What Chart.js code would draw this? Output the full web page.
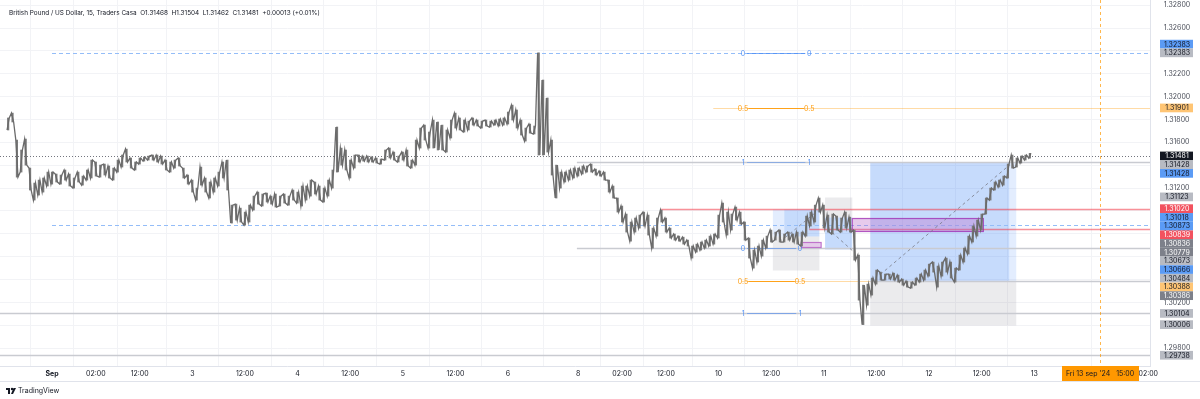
<!DOCTYPE html>
<html>
<head>
<meta charset="utf-8">
<script src="https://cdn.jsdelivr.net/npm/chart.js@4.4.1/dist/chart.umd.min.js"></script>
<style>
  html, body { margin: 0; padding: 0; background: #fff; }
</style>
</head>
<body>
<canvas id="myChart" width="1200" height="399"></canvas>
<script>
// GBP/USD 15m, hourly high/low; first value is 10 h before the "Sep" tick
var firstHour = -10;
var highs = [1.31813,1.31856,1.31620,1.31533,1.31629,1.31375,1.31244,1.31270,1.31288,1.31340,
  1.31340,1.31323,1.31314,1.31358,1.31323,1.31288,1.31340,1.31305,1.31358,1.31445,
  1.31428,1.31401,1.31410,1.31393,1.31375,1.31445,1.31489,1.31541,1.31463,1.31428,
  1.31463,1.31471,1.31480,1.31489,1.31489,1.31480,1.31445,1.31428,1.31445,1.31463,
  1.31375,1.31314,1.31270,1.31200,1.31384,1.31288,1.31253,1.31288,1.31340,1.31428,
  1.31445,1.31051,1.31060,1.31025,1.30990,1.31051,1.31130,1.31165,1.31148,1.31156,
  1.31130,1.31148,1.31130,1.31148,1.31130,1.31183,1.31165,1.31218,1.31218,1.31270,
  1.31253,1.31218,1.31200,1.31270,1.31358,1.31734,1.31550,1.31533,1.31445,1.31489,
  1.31489,1.31480,1.31480,1.31471,1.31463,1.31454,1.31533,1.31550,1.31515,1.31480,
  1.31515,1.31533,1.31445,1.31620,1.31725,1.31751,1.31690,1.31795,1.31778,1.31751,
  1.31708,1.31795,1.31856,1.31813,1.31795,1.31786,1.31813,1.31795,1.31786,1.31795,
  1.31786,1.31795,1.31804,1.31813,1.31865,1.31926,1.31883,1.31795,1.31725,1.31760,
  1.31743,1.32383,1.32145,1.31988,1.31620,1.31401,1.31340,1.31340,1.31358,1.31375,
  1.31375,1.31393,1.31393,1.31410,1.31366,1.31349,1.31340,1.31270,1.31218,1.31113,
  1.31043,1.30973,1.30903,1.30938,1.30964,1.30990,1.30964,1.30850,1.30938,1.31008,
  1.30938,1.30850,1.30798,1.30780,1.30771,1.30745,1.30693,1.30710,1.30728,1.30745,
  1.30780,1.30798,1.30964,1.31069,1.30990,1.30973,1.31034,1.30990,1.30903,1.30763,
  1.30658,1.30693,1.30745,1.30780,1.30833,1.30815,1.30833,1.30798,1.30815,1.30798,
  1.30815,1.30815,1.30955,1.30990,1.31051,1.31113,1.31051,1.30964,1.30973,1.30955,
  1.30938,1.30990,1.30946,1.30833,1.30614,1.30351,1.30360,1.30413,1.30483,1.30465,
  1.30448,1.30448,1.30456,1.30439,1.30404,1.30386,1.30378,1.30413,1.30448,1.30483,
  1.30535,1.30553,1.30518,1.30553,1.30588,1.30553,1.30500,1.30614,1.30675,1.30780,
  1.30868,1.30920,1.30973,1.31113,1.31200,1.31253,1.31270,1.31305,1.31410,1.31489,
  1.31463,1.31480,1.31489,1.31504];
var lows = [1.31708,1.31778,1.31296,1.31340,1.31401,1.31183,1.31095,1.31139,1.31165,1.31218,
  1.31235,1.31253,1.31235,1.31270,1.31218,1.31200,1.31253,1.31226,1.31270,1.31288,
  1.31305,1.31296,1.31314,1.31288,1.31270,1.31340,1.31384,1.31428,1.31375,1.31358,
  1.31410,1.31436,1.31445,1.31445,1.31428,1.31410,1.31358,1.31340,1.31375,1.31393,
  1.31288,1.31235,1.31165,1.31095,1.31226,1.31165,1.31113,1.31165,1.31218,1.31288,
  1.31183,1.30894,1.30920,1.30903,1.30876,1.30903,1.31008,1.31060,1.31043,1.31078,
  1.31060,1.31034,1.31043,1.31069,1.31051,1.31095,1.31069,1.31043,1.31095,1.31130,
  1.31148,1.31095,1.31078,1.31130,1.31200,1.31340,1.31401,1.31358,1.31288,1.31375,
  1.31428,1.31436,1.31428,1.31428,1.31419,1.31410,1.31445,1.31463,1.31445,1.31428,
  1.31445,1.31393,1.31375,1.31401,1.31550,1.31620,1.31550,1.31550,1.31533,1.31533,
  1.31515,1.31638,1.31725,1.31708,1.31690,1.31708,1.31751,1.31743,1.31725,1.31743,
  1.31734,1.31751,1.31743,1.31751,1.31760,1.31795,1.31725,1.31664,1.31611,1.31681,
  1.31673,1.31489,1.31489,1.31515,1.31314,1.31113,1.31200,1.31253,1.31270,1.31288,
  1.31305,1.31323,1.31340,1.31340,1.31314,1.31305,1.31270,1.31165,1.31113,1.30990,
  1.30903,1.30815,1.30736,1.30815,1.30850,1.30868,1.30789,1.30675,1.30780,1.30903,
  1.30815,1.30763,1.30745,1.30736,1.30710,1.30693,1.30588,1.30640,1.30658,1.30675,
  1.30693,1.30710,1.30763,1.30903,1.30789,1.30833,1.30920,1.30885,1.30745,1.30588,
  1.30500,1.30553,1.30605,1.30675,1.30728,1.30745,1.30728,1.30728,1.30745,1.30728,
  1.30710,1.30693,1.30780,1.30868,1.30903,1.30990,1.30850,1.30815,1.30798,1.30833,
  1.30815,1.30850,1.30815,1.30570,1.30220,1.30006,1.30176,1.30264,1.30360,1.30395,
  1.30395,1.30404,1.30395,1.30378,1.30351,1.30334,1.30325,1.30351,1.30378,1.30395,
  1.30430,1.30465,1.30334,1.30430,1.30465,1.30413,1.30378,1.30483,1.30553,1.30623,
  1.30728,1.30780,1.30833,1.30973,1.31095,1.31183,1.31209,1.31226,1.31288,1.31375,
  1.31384,1.31419,1.31445,1.31462];

// time axis: hours of trading since Sun 1 Sep 16:00 (weekend removed)
var tickHours = [0, 10, 20, 32, 44, 56, 68, 80, 92, 104, 120, 130, 140, 152, 164, 176, 188, 200, 212, 224, 250];
var tickLabels = ['Sep', '02:00', '12:00', '3', '12:00', '4', '12:00', '5', '12:00', '6',
  '8', '02:00', '12:00', '10', '12:00', '11', '12:00', '12', '12:00', '13', '02:00'];
var priceTicks = [1.298, 1.300, 1.302, 1.304, 1.306, 1.308, 1.310, 1.312, 1.314, 1.316, 1.318, 1.320, 1.322, 1.324, 1.326, 1.328];

// price-scale labels of the drawn levels, top to bottom
var levelPrices = [1.32383, 1.32383, 1.31901, 1.31481, 1.31428, 1.31428, 1.31123, 1.31020, 1.31018, 1.30873,
  1.30839, 1.30836, 1.30779, 1.30673, 1.30666, 1.30484, 1.30388, 1.30386, 1.30104, 1.30006, 1.29738];
var levelKinds = ['blue', 'gray', 'orange', 'last', 'gray', 'blue', 'gray', 'red', 'blue', 'blue',
  'red', 'dark', 'dark', 'gray', 'blue', 'gray', 'orange', 'dark', 'gray', 'gray', 'gray'];

var legendText = 'British Pound / US Dollar, 15, Traders Casa  O1.31468  H1.31504  L1.31462  C1.31481  +0.00013 (+0.01%)';
var crossHour = 239;
var crossText = "Fri 13 sep '24   15:00";

var FONT = 'Inter, "Noto Sans", sans-serif';
var kindStyle = {
  blue: ['#5B9BF5', '#131722'],
  gray: ['#B8BBC3', '#131722'],
  dark: ['#7D808A', '#ffffff'],
  red: ['#F2525F', '#ffffff'],
  orange: ['#FFC574', '#131722'],
  last: ['#131722', '#ffffff']
};

var hours = highs.map(function (h, i) { return firstHour + i; });
var ranges = hours.map(function (t, i) { return { x: t, y: [lows[i], highs[i]] }; });
// each hour's range traced low->high when the next hour is higher, high->low otherwise
var path = [];
hours.forEach(function (t, i) {
  var mid = (lows[i] + highs[i]) / 2;
  var next = i + 1 < hours.length ? (lows[i + 1] + highs[i + 1]) / 2 : mid;
  var rising = next >= mid;
  path.push({ x: t - 0.25, y: rising ? lows[i] : highs[i] });
  path.push({ x: t + 0.25, y: rising ? highs[i] : lows[i] });
});

var drawings = {
  id: 'drawings',
  beforeDatasetsDraw: function (chart) {
    var ctx = chart.ctx, a = chart.chartArea;
    var X = function (v) { return chart.scales.x.getPixelForValue(v); };
    var Y = function (v) { return Math.round(chart.scales.y.getPixelForValue(v)) + 0.5; };
    ctx.save();
    ctx.beginPath(); ctx.rect(a.left, a.top, a.right - a.left, a.bottom - a.top); ctx.clip();

    function rect(t0, t1, p0, p1, fill, stroke) {
      var x0 = X(t0), x1 = X(t1), y0 = Y(p0), y1 = Y(p1);
      ctx.fillStyle = fill;
      ctx.fillRect(x0, y0, x1 - x0, y1 - y0);
      if (stroke) { ctx.strokeStyle = stroke; ctx.lineWidth = 1.2; ctx.setLineDash([]); ctx.strokeRect(x0, y0, x1 - x0, y1 - y0); }
    }
    function line(x0, y0, x1, y1, color, w, dash) {
      ctx.beginPath(); ctx.moveTo(x0, y0); ctx.lineTo(x1, y1);
      ctx.strokeStyle = color; ctx.lineWidth = w; ctx.setLineDash(dash || []); ctx.stroke();
    }
    function hline(p, t0, color, w, dash) {
      var x0 = t0 === null ? a.left : X(t0);
      line(x0, Y(p), a.right, Y(p), color, w, dash);
    }
    function seg(p, t0, t1, color, w) { line(X(t0), Y(p), X(t1), Y(p), color, w); }
    function diag(t0, p0, t1, p1) { line(X(t0), Y(p0), X(t1), Y(p1), 'rgba(120,123,134,0.8)', 1, [3, 3]); }

    var blueFill = 'rgba(66,135,245,0.30)', blueLight = 'rgba(66,135,245,0.15)', grayFill = 'rgba(120,123,134,0.15)';
    // long / short position tools
    rect(186.6, 218.3, 1.31428, 1.30386, blueFill);
    rect(218.3, 219.9, 1.31428, 1.30386, blueLight);
    rect(186.6, 219.9, 1.30386, 1.30006, grayFill);
    rect(164.4, 167.0, 1.31018, 1.30779, blueLight);
    rect(167.0, 175.0, 1.31018, 1.30779, blueFill);
    rect(164.4, 175.0, 1.30779, 1.30484, grayFill);
    rect(176.3, 182.5, 1.31123, 1.30950, grayFill);
    rect(176.3, 182.5, 1.30950, 1.30666, blueFill);

    // horizontal levels
    var lg = '#C9CBD1', blueDash = '#94BDF8', red = 'rgba(242,54,69,0.55)';
    hline(1.32383, 0, blueDash, 1, [4, 3]);
    hline(1.31901, 150.8, 'rgba(255,152,0,0.35)', 1);
    hline(1.31481, null, 'rgba(80,83,94,0.8)', 1, [1, 2]);
    hline(1.31428, 119.7, lg, 1.5);
    hline(1.31020, 138.9, red, 1.5);
    hline(1.30873, 0, blueDash, 1, [4, 3]);
    hline(1.30839, 172.7, red, 1.5);
    hline(1.30673, 119.7, lg, 1.5);
    hline(1.30388, 157.3, 'rgba(255,152,0,0.35)', 1);
    hline(1.30386, 186.6, lg, 1.5);
    hline(1.30104, null, lg, 1.5);
    hline(1.29738, null, lg, 1.5);

    // fib retracements
    seg(1.32383, 158.5, 171.8, 'rgba(66,135,245,0.7)', 1);
    seg(1.31901, 158.8, 171.5, 'rgba(255,152,0,0.85)', 1);
    seg(1.31428, 158.5, 171.8, 'rgba(66,135,245,0.45)', 1);
    seg(1.30673, 158.5, 169.7, 'rgba(66,135,245,0.55)', 1);
    seg(1.30388, 158.8, 169.4, 'rgba(255,152,0,0.85)', 1);
    seg(1.30104, 158.5, 169.7, 'rgba(66,135,245,0.55)', 1);

    // boxes
    rect(182.5, 212.4, 1.30938, 1.30824, 'rgba(186,104,200,0.35)', 'rgba(156,39,176,0.75)');
    rect(170.9, 175.4, 1.30728, 1.30684, 'rgba(225,190,231,0.7)', 'rgba(186,104,200,0.9)');

    diag(188.9, 1.30448, 218.5, 1.31410);
    diag(167.2, 1.30771, 174.7, 1.31008);
    diag(177.9, 1.30815, 182.5, 1.30658);

    // crosshair
    var xc = Math.round(X(crossHour)) + 0.5;
    line(xc, a.top, xc, a.bottom, 'rgba(255,152,0,0.7)', 1, [3, 3]);

    // fib level texts
    ctx.setLineDash([]);
    ctx.font = '7px ' + FONT; ctx.textAlign = 'center'; ctx.textBaseline = 'middle';
    function ftxt(s, t, p, color) { ctx.fillStyle = color; ctx.fillText(s, X(t), Y(p)); }
    var fb = 'rgba(66,135,245,0.9)', fo = 'rgba(255,152,0,0.95)';
    [[157.6, 172.7, 1.32383, 1.31901, 1.31428], [157.6, 170.6, 1.30673, 1.30388, 1.30104]].forEach(function (f) {
      [f[0], f[1]].forEach(function (t) {
        ftxt('0', t, f[2], fb); ftxt('0.5', t, f[3], fo); ftxt('1', t, f[4], fb);
      });
    });
    ctx.restore();
  },
  afterDraw: function (chart) {
    var ctx = chart.ctx, a = chart.chartArea;
    var X = function (v) { return chart.scales.x.getPixelForValue(v); };
    var Y = function (v) { return chart.scales.y.getPixelForValue(v); };
    ctx.save();
    ctx.setLineDash([]);
    // legend line
    ctx.font = '6.4px ' + FONT; ctx.fillStyle = '#131722'; ctx.textAlign = 'left'; ctx.textBaseline = 'middle';
    ctx.fillText(legendText, 9, 13);

    // price scale tick labels
    var cx = a.right + 27;
    ctx.font = '7px ' + FONT;
    ctx.textAlign = 'center';
    ctx.fillStyle = '#4A4E59';
    priceTicks.forEach(function (v) { ctx.fillText(v.toFixed(5), cx, Y(v)); });

    // level labels, stacked away from the last price label
    var h = 8.7, n = levelPrices.length, li = levelKinds.indexOf('last');
    var pos = levelPrices.map(function (p) { return Y(p); });
    for (var i = li - 1; i >= 0; i--) pos[i] = Math.min(pos[i], pos[i + 1] - h);
    for (i = li + 1; i < n; i++) pos[i] = Math.max(pos[i], pos[i - 1] + h);
    for (i = 0; i < n; i++) {
      var st = kindStyle[levelKinds[i]];
      ctx.fillStyle = st[0];
      ctx.fillRect(a.right + 10, pos[i] - h / 2, 33, h);
      ctx.fillStyle = st[1];
      ctx.fillText(levelPrices[i].toFixed(5), cx, pos[i] + 0.3);
    }

    // time axis crosshair label
    var xc = X(crossHour);
    ctx.fillStyle = '#FF9800';
    ctx.fillRect(xc - 38, a.bottom, 77, 15);
    ctx.fillStyle = '#131722';
    ctx.fillText(crossText, xc, a.bottom + 7.5);

    // bottom rule and logo
    ctx.strokeStyle = '#E0E3EB'; ctx.lineWidth = 1;
    ctx.beginPath(); ctx.moveTo(0, 381.5); ctx.lineTo(1200, 381.5); ctx.stroke();
    ctx.fillStyle = '#131722';
    ctx.fillRect(6, 388, 4, 2); ctx.fillRect(8, 388, 2, 6);
    ctx.beginPath(); ctx.arc(12, 389, 1.2, 0, Math.PI * 2); ctx.fill();
    ctx.beginPath(); ctx.moveTo(13.5, 388); ctx.lineTo(16, 388); ctx.lineTo(13, 394); ctx.lineTo(11, 394); ctx.fill();
    ctx.textAlign = 'left';
    ctx.fillText('TradingView', 18, 391);
    ctx.restore();
  }
};

var myChart = new Chart('myChart', {
  type: 'bar',
  data: {
    datasets: [{
      type: 'line',
      data: path,
      borderColor: '#6A6A6A',
      borderWidth: 1.3,
      pointRadius: 0,
      tension: 0,
      order: 0
    }, {
      data: ranges,
      backgroundColor: '#7A7A7A',
      barThickness: 1.5,
      order: 1
    }]
  },
  options: {
    responsive: false,
    animation: false,
    devicePixelRatio: 1,
    layout: { padding: { left: 0, right: 0, top: 0, bottom: 16 } },
    plugins: { legend: { display: false }, tooltip: { enabled: false } },
    scales: {
      x: {
        type: 'linear',
        min: -11.86,
        max: 250.4,
        offset: false,
        afterBuildTicks: function (s) { s.ticks = tickHours.map(function (v) { return { value: v }; }); },
        afterFit: function (s) { s.height = 17; },
        ticks: {
          autoSkip: false,
          maxRotation: 0,
          padding: 4,
          color: '#131722',
          font: function (c) { return { family: FONT, size: 7, weight: c.tick && c.tick.value === 0 ? 'bold' : 'normal' }; },
          callback: function (v, i) { return tickLabels[i]; }
        },
        grid: { color: '#F2F3F6', drawTicks: false },
        border: { color: '#E0E3EB' }
      },
      y: {
        position: 'right',
        min: 1.29644,
        max: 1.32845,
        afterBuildTicks: function (s) { s.ticks = priceTicks.map(function (v) { return { value: v }; }); },
        afterFit: function (s) { s.width = 50; },
        ticks: { display: false },
        grid: { color: '#F2F3F6', drawTicks: false },
        border: { color: '#E0E3EB' }
      }
    }
  },
  plugins: [drawings]
});
</script>
</body>
</html>
